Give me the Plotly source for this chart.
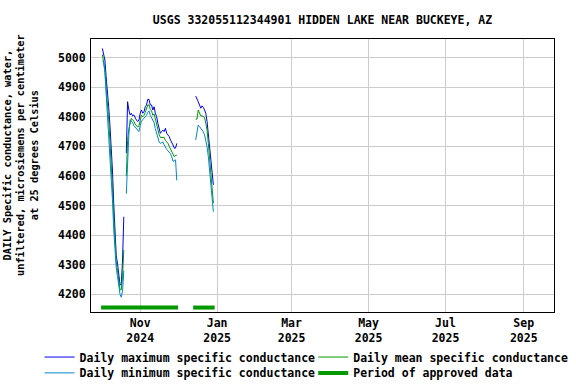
import pandas as pd
import plotly.graph_objects as go

# Daily series: Oct 2 2024 .. Dec 29 2024 (None = no data)
start_date = "2024-10-02"
max_sc = [5031, 5015, 4992, 4936, 4891, 4834, 4772, 4705, 4620, 4508, 4410, 4330, 4305, 4262, 4232, 4232, 4316, 4462,
          None,
          4677, 4851, 4823, 4806, 4812, 4803, 4806, 4795, 4789, 4784, 4789, 4812, 4823, 4812, 4817, 4834, 4840, 4859,
          4859, 4840, 4840, 4823, 4834, 4812, 4801, 4778, 4755, 4744, 4750, 4755, 4750, 4761, 4744, 4739, 4733, 4722,
          4710, 4705, 4694, 4694, 4710,
          None, None, None, None, None, None, None, None, None, None, None, None, None, None,
          4870, 4862, 4851, 4840, 4829, 4837, 4832, 4823, 4812, 4784, 4744, 4688, 4643, 4609, 4570]
mean_sc = [5010, 4990, 4960, 4900, 4850, 4790, 4720, 4650, 4560, 4460, 4370, 4310, 4280, 4240, 4215, 4215, 4260, 4350,
           None,
           4600, 4720, 4760, 4780, 4795, 4790, 4785, 4775, 4770, 4765, 4770, 4795, 4805, 4800, 4805, 4815, 4825, 4840,
           4840, 4825, 4820, 4805, 4810, 4790, 4775, 4760, 4740, 4730, 4730, 4730, 4730, 4720, 4715, 4710, 4700, 4690,
           4680, 4670, 4665, 4670, 4670,
           None, None, None, None, None, None, None, None, None, None, None, None, None, None,
           4792, 4792, 4823, 4812, 4803, 4803, 4800, 4798, 4778, 4755, 4710, 4665, 4609, 4553, 4508]
min_sc = [4990, 4985, 4950, 4880, 4820, 4760, 4690, 4610, 4520, 4420, 4340, 4290, 4260, 4220, 4200, 4190, 4210, 4280,
          None,
          4540, 4650, 4740, 4790, 4785, 4780, 4770, 4765, 4760, 4755, 4750, 4770, 4785, 4790, 4795, 4800, 4805, 4815,
          4820, 4805, 4795, 4785, 4780, 4760, 4745, 4730, 4715, 4710, 4712, 4715, 4705, 4695, 4690, 4685, 4680, 4675,
          4665, 4650, 4650, 4655, 4585,
          None, None, None, None, None, None, None, None, None, None, None, None, None, None,
          4722, 4744, 4772, 4767, 4761, 4758, 4750, 4739, 4722, 4699, 4665, 4620, 4564, 4530, 4479]
approved_periods = [("2024-10-01", "2024-12-01"), ("2024-12-13", "2024-12-30")]

tick_vals = ["2024-11-01", "2025-01-01", "2025-03-01", "2025-05-01", "2025-07-01", "2025-09-01"]
tick_text = ["Nov<br>2024", "Jan<br>2025", "Mar<br>2025", "May<br>2025", "Jul<br>2025", "Sep<br>2025"]
y_ticks = [4200, 4300, 4400, 4500, 4600, 4700, 4800, 4900, 5000]
y_title = "DAILY Specific conductance, water,<br>unfiltered, microsiemens per centimeter<br>at 25 degrees Celsius"

dates = pd.date_range(start_date, periods=len(max_sc), freq="D")

FONT = "DejaVu Sans Mono"
BAR_Y = 4155
LF = dict(family=FONT, size=11.5, weight="bold", color="black")

fig = go.Figure()
fig.add_trace(go.Scatter(x=dates, y=max_sc, mode="lines", name="Daily maximum specific conductance",
                         line=dict(color="#0000ee", width=1), legend="legend"))
fig.add_trace(go.Scatter(x=dates, y=mean_sc, mode="lines", name="Daily mean specific conductance",
                         line=dict(color="#009900", width=1), legend="legend2"))
fig.add_trace(go.Scatter(x=dates, y=min_sc, mode="lines", name="Daily minimum specific conductance",
                         line=dict(color="#0088cc", width=1), legend="legend3"))
bx, by = [], []
for s, e in approved_periods:
    bx += [s, e, None]
    by += [BAR_Y, BAR_Y, None]
fig.add_trace(go.Scatter(x=bx, y=by, mode="lines", name="Period of approved data",
                         line=dict(color="#009900", width=4), legend="legend4"))

col1, col2 = -0.111, 0.480
row1, row2 = -0.165, -0.223


def leg(x, y):
    return dict(orientation="h", x=x, xanchor="left", y=y, yanchor="middle", font=LF,
                bgcolor="rgba(0,0,0,0)", borderwidth=0, itemwidth=30)


fig.update_layout(
    width=576, height=384,
    margin=dict(l=91, r=22, t=39, b=72, autoexpand=False),
    paper_bgcolor="white", plot_bgcolor="white",
    font=dict(family=FONT, size=11.5, color="black", weight="bold"),
    title=dict(text="USGS 332055112344901 HIDDEN LAKE NEAR BUCKEYE, AZ", xref="paper", x=0.5, xanchor="center",
               yref="container", y=1 - 20 / 384, yanchor="middle", font=LF),
    showlegend=True,
    legend=leg(col1, row1), legend2=leg(col2, row1), legend3=leg(col1, row2), legend4=leg(col2, row2),
)
fig.add_annotation(text=y_title, textangle=-90, xref="paper", yref="paper",
                   x=(20 - 91) / 463, y=(312 - 155) / 273, xanchor="center", yanchor="middle",
                   showarrow=False, font=dict(family=FONT, size=10.3, weight="bold", color="black"))
fig.update_xaxes(type="date", range=["2024-09-23", "2025-09-25"], tickvals=tick_vals, ticktext=tick_text,
                 showgrid=True, gridcolor="#cccccc", gridwidth=1, showline=True, linecolor="black",
                 linewidth=1, mirror=True, ticks="", zeroline=False)
fig.update_yaxes(range=[4140, 5063], tickvals=y_ticks, showgrid=True, gridcolor="#cccccc", gridwidth=1,
                 showline=True, linecolor="black", linewidth=1, mirror=True, ticks="", zeroline=False,
                 ticklabelstandoff=2)

fig.write_html("out.html", config={"displayModeBar": False},
               post_script="document.body.style.margin='0';")
